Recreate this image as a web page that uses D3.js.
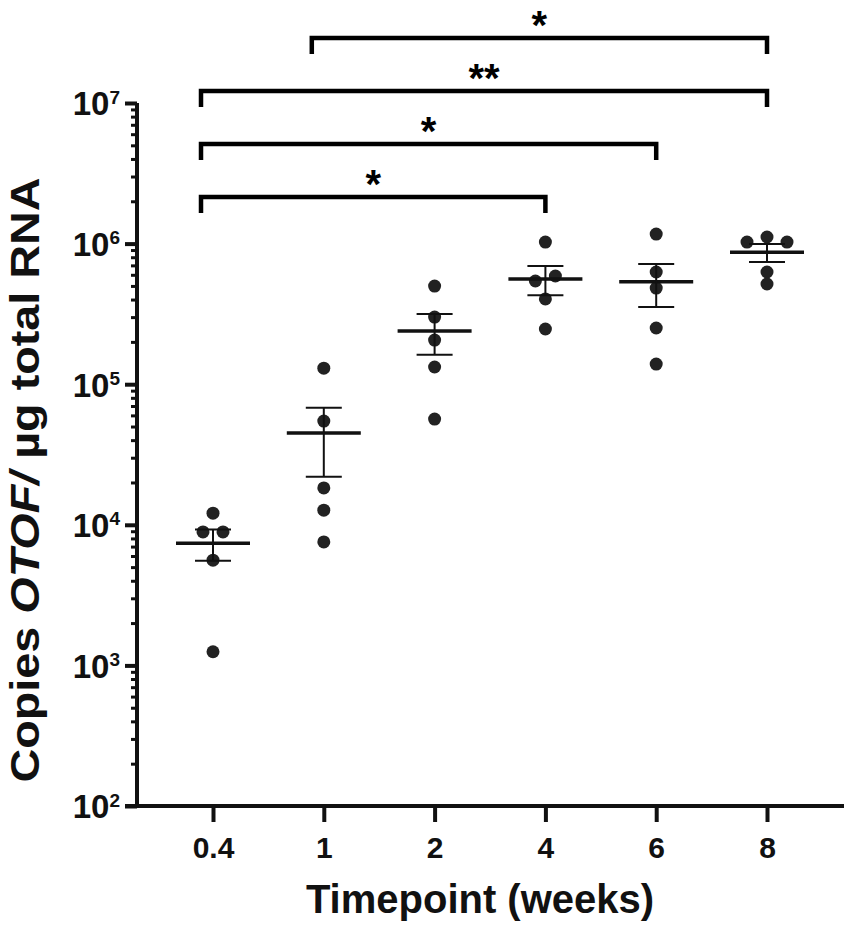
<!DOCTYPE html>
<html>
<head>
<meta charset="utf-8">
<script src="https://cdn.jsdelivr.net/npm/d3@7"></script>
<style>
  body { margin: 0; background: #fff; }
  svg { display: block; font-family: "Liberation Sans", Arial, sans-serif; font-weight: bold; }
</style>
</head>
<body>
<div id="chart"></div>
<script>
// categories and per-timepoint copies
const categories = ["0.4", "1", "2", "4", "6", "8"];
const wk04 = [12100, 8900, 8900, 5600, 1250];
const wk1 = [130000, 54700, 18300, 12700, 7550];
const wk2 = [499000, 300000, 206000, 132500, 56500];
const wk4 = [1026000, 588000, 542000, 404000, 247000];
const wk6 = [1169000, 628000, 483000, 251000, 139000];
const wk8 = [1114000, 1026000, 1026000, 628000, 516000];
const means = [7400, 45000, 239000, 561000, 535000, 867000];
const sems = [1850, 23000, 77000, 131000, 181000, 127000];

// significance brackets
const bracketFrom = ["0.4", "0.4", "0.4", "1"];
const bracketTo = ["4", "6", "8", "8"];
const bracketStars = ["*", "*", "**", "*"];

const yTickValues = [1e2, 1e3, 1e4, 1e5, 1e6, 1e7];

const groups = [wk04, wk1, wk2, wk4, wk6, wk8];

const W = 851, H = 927;
const svg = d3.select("#chart").append("svg")
  .attr("width", W).attr("height", H);

// scales
const x = d3.scalePoint().domain(categories).range([213, 767]);
const y = d3.scaleLog().domain([1e2, 1e7]).range([806, 103]);
const axisX = 137;
const axisY = 806;

// y axis - minor ticks
const minorVals = [];
for (let k = 2; k < 7; k++) {
  for (let m = 2; m <= 9; m++) minorVals.push(m * Math.pow(10, k));
}
const gMinor = svg.append("g").attr("transform", `translate(${axisX},0)`)
  .call(d3.axisLeft(y).tickValues(minorVals).tickSize(6).tickFormat(""));
gMinor.select(".domain").remove();
gMinor.selectAll("line").attr("stroke", "#111").attr("stroke-width", 3);

// y axis - major ticks
const gy = svg.append("g").attr("transform", `translate(${axisX},0)`)
  .call(d3.axisLeft(y).tickValues(yTickValues).tickSize(12).tickPadding(5)
    .tickFormat(d => Math.round(Math.log10(d))));
gy.select(".domain").remove();
gy.selectAll("line").attr("stroke", "#111").attr("stroke-width", 4);
gy.selectAll("text").each(function (d) {
  const t = d3.select(this);
  const ex = Math.round(Math.log10(d));
  t.text(null)
    .attr("font-size", 33).attr("fill", "#111").attr("dy", "0.36em");
  t.append("tspan").text("10");
  t.append("tspan").attr("font-size", 19).attr("dy", "-0.62em").text(ex);
});

// axis lines
svg.append("line")
  .attr("x1", axisX).attr("x2", axisX)
  .attr("y1", y(1e7)).attr("y2", axisY)
  .attr("stroke", "#111").attr("stroke-width", 4);

// x axis
const gx = svg.append("g").attr("transform", `translate(0,${axisY})`)
  .call(d3.axisBottom(x).tickSize(16).tickSizeOuter(0).tickPadding(15));
gx.select(".domain").remove();
gx.selectAll("line").attr("stroke", "#111").attr("stroke-width", 4);
gx.selectAll("text").attr("font-size", 30).attr("fill", "#111");

svg.append("line")
  .attr("x1", axisX - 12).attr("x2", 844)
  .attr("y1", axisY).attr("y2", axisY)
  .attr("stroke", "#111").attr("stroke-width", 4);

// axis titles
svg.append("text")
  .attr("x", 480).attr("y", 913)
  .attr("text-anchor", "middle")
  .attr("font-size", 40).attr("fill", "#111")
  .text("Timepoint (weeks)");

const yl = svg.append("text")
  .attr("transform", "translate(39,480) rotate(-90)")
  .attr("text-anchor", "middle")
  .attr("font-size", 41).attr("fill", "#111")
  .attr("textLength", 605).attr("lengthAdjust", "spacingAndGlyphs");
yl.append("tspan").text("Copies ");
yl.append("tspan").attr("font-style", "italic").text("OTOF/");
yl.append("tspan").text(" µg total RNA");

// dots: simple centred rows where points overlap
const step = 20;
const dots = [];
groups.forEach((vals, gi) => {
  const sorted = vals.slice().sort((a, b) => b - a);
  const rows = [];
  sorted.forEach(v => {
    const last = rows[rows.length - 1];
    if (last && Math.abs(y(v) - y(last[0])) < 10) last.push(v);
    else rows.push([v]);
  });
  rows.forEach(row => {
    const n = row.length;
    row.forEach((v, i) => {
      let off;
      if (n % 2 === 1) {
        off = i === 0 ? 0 : Math.ceil(i / 2) * step * (i % 2 === 1 ? -1 : 1);
      } else {
        off = (Math.floor(i / 2) + 0.5) * step * (i % 2 === 0 ? 1 : -1);
      }
      dots.push({ cat: categories[gi], v: v, off: off });
    });
  });
});

svg.append("g").selectAll("circle")
  .data(dots).enter().append("circle")
  .attr("cx", d => x(d.cat) + d.off)
  .attr("cy", d => y(d.v))
  .attr("r", 6.5)
  .attr("fill", "#222");

// mean and SEM
const stats = categories.map((c, i) => ({ cat: c, m: means[i], s: sems[i] }));
const gs = svg.append("g").attr("stroke", "#111");
gs.selectAll(".mean").data(stats).enter().append("line")
  .attr("x1", d => x(d.cat) - 37).attr("x2", d => x(d.cat) + 37)
  .attr("y1", d => y(d.m)).attr("y2", d => y(d.m))
  .attr("stroke-width", 3.5);
gs.selectAll(".err").data(stats).enter().append("line")
  .attr("x1", d => x(d.cat)).attr("x2", d => x(d.cat))
  .attr("y1", d => y(d.m - d.s)).attr("y2", d => y(d.m + d.s))
  .attr("stroke-width", 2);
gs.selectAll(".capTop").data(stats).enter().append("line")
  .attr("x1", d => x(d.cat) - 18).attr("x2", d => x(d.cat) + 18)
  .attr("y1", d => y(d.m + d.s)).attr("y2", d => y(d.m + d.s))
  .attr("stroke-width", 2);
gs.selectAll(".capBot").data(stats).enter().append("line")
  .attr("x1", d => x(d.cat) - 18).attr("x2", d => x(d.cat) + 18)
  .attr("y1", d => y(d.m - d.s)).attr("y2", d => y(d.m - d.s))
  .attr("stroke-width", 2);

// brackets
const bracketBase = 197, bracketStep = 53, drop = 16;
const brackets = bracketFrom.map((f, i) => ({
  x1: x(f) - 12, x2: x(bracketTo[i]), yy: bracketBase - i * bracketStep, label: bracketStars[i]
}));
svg.append("g").selectAll("path")
  .data(brackets).enter().append("path")
  .attr("d", d => `M${d.x1},${d.yy + drop}V${d.yy}H${d.x2}V${d.yy + drop}`)
  .attr("fill", "none").attr("stroke", "#000").attr("stroke-width", 4.5);
svg.append("g").selectAll("text")
  .data(brackets).enter().append("text")
  .attr("x", d => (d.x1 + d.x2) / 2)
  .attr("y", d => d.yy + 1)
  .attr("text-anchor", "middle")
  .attr("font-size", 40).attr("fill", "#000")
  .text(d => d.label);
</script>
</body>
</html>
